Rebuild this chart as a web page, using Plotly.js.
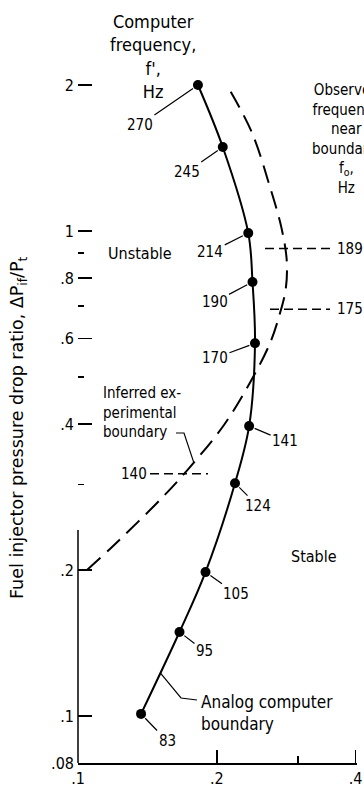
<!DOCTYPE html>
<html>
<head>
<meta charset="utf-8">
<script src="https://cdn.plot.ly/plotly-3.0.1.min.js"></script>
<style>
  html, body { margin: 0; padding: 0; background: #fff; }
  #chart { width: 364px; height: 794px; }
</style>
</head>
<body>
<div id="chart"></div>
<script>
// Analog computer stability boundary, with the computer frequency f' (Hz) at each point
const compX = [0.137, 0.166, 0.189, 0.219, 0.235, 0.242, 0.239, 0.234, 0.206, 0.182];
const compY = [0.101, 0.149, 0.198, 0.302, 0.396, 0.587, 0.785, 0.99, 1.49, 2.0];
const compFreq = [83, 95, 105, 124, 141, 170, 190, 214, 245, 270];

// Inferred experimental boundary (dashed curve)
const expX = [0.1046, 0.1173, 0.1528, 0.1783, 0.208, 0.2358, 0.2604, 0.2738, 0.2821, 0.2836, 0.2765, 0.2604, 0.238, 0.2102];
const expY = [0.2, 0.221, 0.283, 0.333, 0.400, 0.486, 0.585, 0.674, 0.759, 0.867, 1.01, 1.238, 1.60, 2.0];

// Observed frequencies f_o (Hz) near the boundary and the ratio at which each was read
const obsFreq = [189, 175, 140];
const obsY = [0.92, 0.69, 0.316];

// Axis ticks
const yTickVals = [0.08, 0.1, 0.2, 0.4, 0.6, 0.8, 1, 2];
const yTickText = ['.08', '.1', '.2', '.4', '.6', '.8', '1', '2'];
const yMinorVals = [0.3, 0.5, 0.7, 0.9];
const xTickVals = [0.1, 0.2, 0.4];
const xTickText = ['.1', '.2', '.4'];
const xMinorVals = [0.3];

const FONT = '"DejaVu Sans Condensed", "Liberation Sans Narrow", "DejaVu Sans", sans-serif';
const TITLE_FONT = '"DejaVu Sans", sans-serif';
const lg = Math.log10;

// Plot area in pixels and axis ranges (log10 units)
const L = 78, R = 357, B = 763;
const X_RANGE = [-1, -0.395];
const Y_RANGE = [lg(0.08), 0.4763];
const px = X => (X - L) / (R - L);
const py = Y => (B - Y) / B;
// pixel position -> data value, for leader lines placed beside the marks
const xAt = X => Math.pow(10, X_RANGE[0] + px(X) * (X_RANGE[1] - X_RANGE[0]));
const yAt = Y => Math.pow(10, Y_RANGE[0] + py(Y) * (Y_RANGE[1] - Y_RANGE[0]));

// Pixel offsets of each frequency label from its point
const labelOffsets = [[26, 27], [25, 19], [31, 22], [23, 23], [36, 15],
                      [-40, 15], [-38, 20], [-38, 19], [-36, 25], [-58, 40]];

const leaderLine = { color: '#000', width: 1.2 };

const traces = [
  {
    x: expX, y: expY, type: 'scatter', mode: 'lines',
    line: { color: '#000', width: 2, dash: '18px,9px', shape: 'spline', smoothing: 1 },
    hoverinfo: 'skip'
  },
  {
    x: compX, y: compY, type: 'scatter', mode: 'lines+markers',
    line: { color: '#000', width: 2, shape: 'spline', smoothing: 1 },
    marker: { color: '#000', size: 10 },
    text: compFreq.map(String), hoverinfo: 'x+y+text'
  },
  // leader from "boundary" to the dashed curve
  {
    x: [xAt(176), xAt(184), expX[3]], y: [yAt(433), yAt(433), expY[3]],
    type: 'scatter', mode: 'lines', line: leaderLine, hoverinfo: 'skip'
  },
  // leader from "Analog computer" to the solid curve, between its two lowest points
  {
    x: [Math.sqrt(compX[0] * compX[1]), xAt(181), xAt(197)],
    y: [Math.sqrt(compY[0] * compY[1]), yAt(698), yAt(700)],
    type: 'scatter', mode: 'lines', line: leaderLine, hoverinfo: 'skip'
  }
];

// Observed-frequency leaders (dashed, horizontal)
const obsLeader = [[265, 330, 335, 'left'], [270, 330, 335, 'left'], [150, 208, 149, 'right']];
obsFreq.forEach((f, i) => {
  const o = obsLeader[i];
  traces.push({
    x: [xAt(o[0]), xAt(o[1])], y: [obsY[i], obsY[i]],
    type: 'scatter', mode: 'lines', hoverinfo: 'skip',
    line: { color: '#000', width: 1.5, dash: '9px,5px' }
  });
});

const textFont = (size, fam) => ({ family: fam || FONT, size: size, color: '#000' });
const annotations = [];

compFreq.forEach((f, i) => {
  annotations.push({
    x: lg(compX[i]), y: lg(compY[i]), xref: 'x', yref: 'y',
    text: String(f), showarrow: true, arrowhead: 0, arrowwidth: 1.2, arrowcolor: '#000',
    ax: labelOffsets[i][0], ay: labelOffsets[i][1], standoff: 6,
    font: textFont(15)
  });
});

obsFreq.forEach((f, i) => {
  const o = obsLeader[i];
  annotations.push({
    x: px(o[2]), y: lg(obsY[i]), xref: 'paper', yref: 'y', xanchor: o[3], yanchor: 'middle',
    text: String(f), showarrow: false, font: textFont(15)
  });
});

annotations.push(
  { xref: 'paper', yref: 'paper', x: px(153), y: py(56), xanchor: 'center', yanchor: 'middle',
    text: "Computer<br>frequency,<br>f',<br>Hz", showarrow: false, font: textFont(18) },
  { xref: 'paper', yref: 'paper', x: px(346), y: py(139), xanchor: 'center', yanchor: 'middle',
    text: 'Observed<br>frequency<br>near<br>boundary,<br>f<sub>o</sub>,<br>Hz', showarrow: false,
    font: textFont(15) },
  { xref: 'paper', yref: 'paper', x: px(106), y: py(253), xanchor: 'left', yanchor: 'middle',
    text: 'Unstable', showarrow: false, font: textFont(16) },
  { xref: 'paper', yref: 'paper', x: px(289), y: py(556), xanchor: 'left', yanchor: 'middle',
    text: 'Stable', showarrow: false, font: textFont(16) },
  { xref: 'paper', yref: 'paper', x: px(101), y: py(412), xanchor: 'left', yanchor: 'middle', align: 'left',
    text: 'Inferred ex-<br>perimental<br>boundary', showarrow: false, font: textFont(15) },
  { xref: 'paper', yref: 'paper', x: px(199), y: py(713), xanchor: 'left', yanchor: 'middle', align: 'left',
    text: 'Analog computer<br>boundary', showarrow: false, font: textFont(17) },
  // y-axis title
  { xref: 'paper', yref: 'paper', x: (18 - L) / (R - L), y: py(428), xanchor: 'center', yanchor: 'middle',
    textangle: -90, text: 'Fuel injector pressure drop ratio, \u0394P<sub>if</sub>/P<sub>t</sub>',
    showarrow: false, font: textFont(17.5, TITLE_FONT) }
);

const layout = {
  width: 364, height: 794,
  margin: { l: L, r: 364 - R, t: 0, b: 794 - B },
  paper_bgcolor: '#fff', plot_bgcolor: '#fff',
  showlegend: false,
  font: { family: FONT, color: '#000', size: 15 },
  xaxis: {
    type: 'log', range: X_RANGE,
    tickvals: xTickVals, ticktext: xTickText,
    ticks: 'inside', ticklen: 13, tickwidth: 1.5, tickcolor: '#000',
    showline: true, linecolor: '#000', linewidth: 1.5,
    showgrid: false, zeroline: false,
    tickfont: textFont(16),
    minor: { tickvals: xMinorVals, ticks: 'inside', ticklen: 7, tickwidth: 1.5, tickcolor: '#000', showgrid: false }
  },
  yaxis: {
    type: 'log', range: Y_RANGE,
    tickvals: yTickVals, ticktext: yTickText,
    ticks: 'inside', ticklen: 14, tickwidth: 1.5, tickcolor: '#000',
    ticklabelstandoff: 3,
    showline: false, showgrid: false, zeroline: false,
    tickfont: textFont(16),
    minor: { tickvals: yMinorVals, ticks: 'inside', ticklen: 6, tickwidth: 1.5, tickcolor: '#000', showgrid: false }
  },
  shapes: [
    // left axis line, drawn over the lower part only
    { type: 'line', xref: 'paper', yref: 'paper', x0: 0, x1: 0, y0: 0, y1: py(530),
      line: { color: '#000', width: 1.5 } }
  ],
  annotations: annotations
};

Plotly.newPlot('chart', traces, layout, { staticPlot: true, displayModeBar: false });
</script>
</body>
</html>
